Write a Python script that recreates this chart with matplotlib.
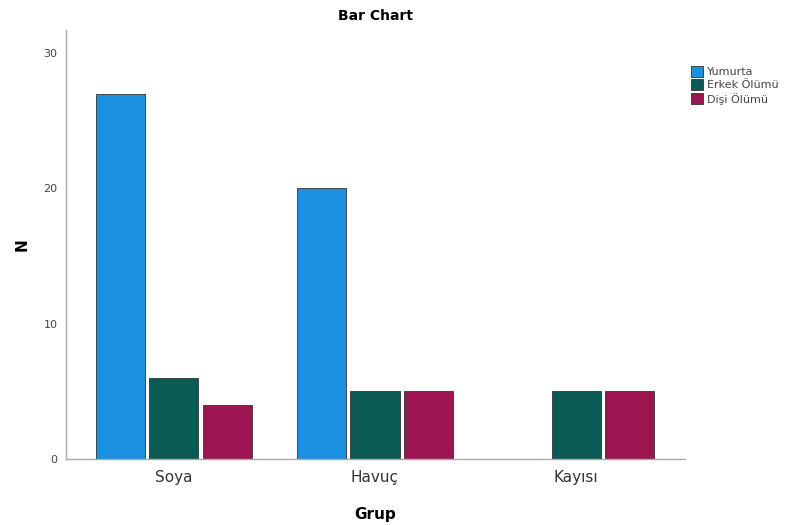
import numpy as np
import matplotlib
matplotlib.use("Agg")
import matplotlib.pyplot as plt

groups = ["Soya", "Havuç", "Kayısı"]
series = ["Yumurta", "Erkek Ölümü", "Dişi Ölümü"]
yumurta = [27, 20, np.nan]
erkek = [6, 5, 5]
disi = [4, 5, 5]
colors = ["#1b8fe0", "#0b5a54", "#9c1550"]

fig = plt.figure(figsize=(7.91, 5.25), dpi=100)
ax = fig.add_axes([66 / 791, 1 - 459 / 525, 619 / 791, 429 / 525])

xs = np.arange(len(groups))
step, width = 0.264, 0.244
for i, (name, vals, c) in enumerate(zip(series, [yumurta, erkek, disi], colors)):
    ax.bar(xs + (i - 1) * step, vals, width=width, color=c, edgecolor="#333333",
           linewidth=0.6, label=name)

ax.set_xlim(-0.537, 2.542)
ax.set_ylim(0, 31.7)
ax.set_yticks([0, 10, 20, 30])
ax.set_xticks(xs)
ax.set_xticklabels(groups, fontsize=11, color="#333333")
ax.tick_params(axis="y", labelsize=8, colors="#444444", length=0, pad=6)
ax.tick_params(axis="x", length=0, pad=8)
for s in ["top", "right"]:
    ax.spines[s].set_visible(False)
for s in ["left", "bottom"]:
    ax.spines[s].set_color("#aaaaaa")
    ax.spines[s].set_linewidth(1.0)

ax.set_xlabel("Grup", fontsize=11, fontweight="bold", labelpad=16)
ax.set_ylabel("N", fontsize=11, fontweight="bold", labelpad=10)
ax.set_title("Bar Chart", fontsize=10, fontweight="bold", pad=7)

fig.legend(loc="upper left", bbox_to_anchor=(681 / 791, 1 - 56 / 525), frameon=False,
           fontsize=8, handlelength=1.1, handleheight=1.1, handletextpad=0.3,
           labelspacing=0.2, labelcolor="#444444")

fig.savefig("out.png", dpi=100)
